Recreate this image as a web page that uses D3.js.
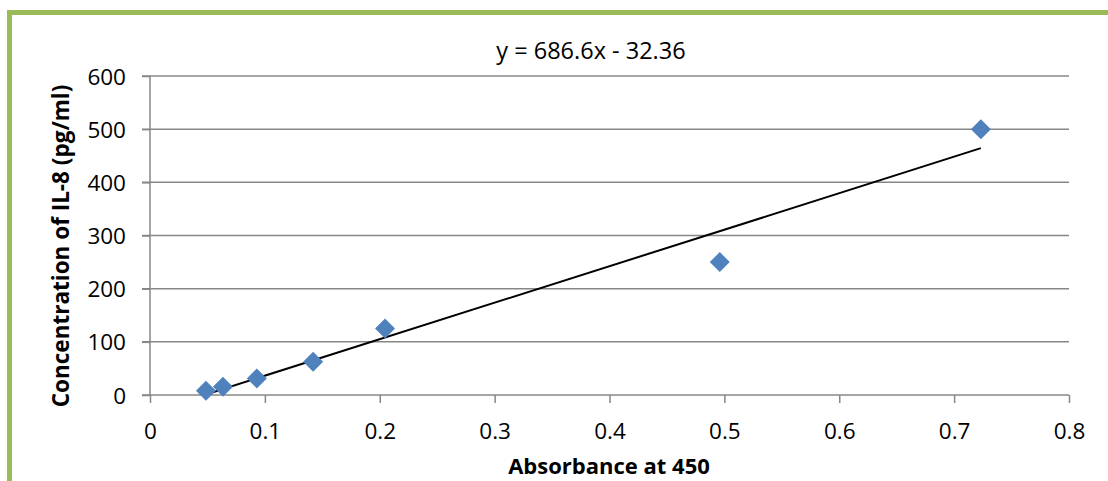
<!DOCTYPE html>
<html>
<head>
<meta charset="utf-8">
<script src="https://cdn.jsdelivr.net/npm/d3@7"></script>
<style>
  body { margin: 0; background: #fff; }
  svg text { font-family: "Open Sans", "Liberation Sans", sans-serif; fill: #000; }
</style>
</head>
<body>
<script>
const absorbance = [0.0487, 0.0635, 0.093, 0.142, 0.2046, 0.496, 0.7233];
const concentration = [7.8, 15.6, 31.25, 62.5, 125, 250, 500];
const xTicks = [0, 0.1, 0.2, 0.3, 0.4, 0.5, 0.6, 0.7, 0.8];
const yTicks = [0, 100, 200, 300, 400, 500, 600];
const slope = 686.6;
const intercept = -32.36;

const w = 1108;
const h = 481;
const plotLeft = 150, plotRight = 1069, plotTop = 76, plotBottom = 395;

const svg = d3.select("body")
              .append("svg")
              .attr("width", w)
              .attr("height", h)

// green frame
svg.append("path")
   .attr("d", "M9.5," + h + " V12.5 H" + w)
   .attr("fill", "none")
   .attr("stroke", "#9bbb59")
   .attr("stroke-width", 5)

const xScale = d3.scaleLinear().domain([0, 0.8]).range([plotLeft, plotRight]);
const yScale = d3.scaleLinear().domain([0, 600]).range([plotBottom, plotTop]);

// gridlines
svg.append("g")
   .selectAll("line")
   .data(yTicks)
   .enter()
   .append("line")
   .attr("x1", plotLeft - 8)
   .attr("x2", plotRight)
   .attr("y1", d => yScale(d))
   .attr("y2", d => yScale(d))
   .attr("stroke", "#878787")
   .attr("stroke-width", 1.5)

const yAxis = d3.axisLeft(yScale).tickValues(yTicks).tickSize(8).tickPadding(16);
svg.append("g")
   .attr("transform", "translate(" + plotLeft + ",0)")
   .call(yAxis)
   .call(g => g.selectAll("line, path").attr("stroke", "#878787").attr("stroke-width", 1.5))
   .call(g => g.select(".domain").attr("d", "M0," + plotTop + "V" + plotBottom))
   .call(g => g.selectAll("text").attr("font-size", 22.5).attr("font-family", "Open Sans").attr("dy", "0.36em"))

const xAxis = d3.axisBottom(xScale).tickValues(xTicks).tickSize(8).tickPadding(20)
                .tickFormat(d => d === 0 ? "0" : d3.format(".1f")(d));
svg.append("g")
   .attr("transform", "translate(0," + plotBottom + ")")
   .call(xAxis)
   .call(g => g.select(".domain").remove())
   .call(g => g.selectAll("line").attr("stroke", "#878787").attr("stroke-width", 1.5))
   .call(g => g.selectAll("text").attr("font-size", 22.5).attr("font-family", "Open Sans"))

// trendline
const x0 = d3.min(absorbance), x1 = d3.max(absorbance);
svg.append("line")
   .attr("x1", xScale(x0))
   .attr("y1", yScale(slope * x0 + intercept))
   .attr("x2", xScale(x1))
   .attr("y2", yScale(slope * x1 + intercept))
   .attr("stroke", "#000")
   .attr("stroke-width", 2)

// points
svg.selectAll(".pt")
   .data(absorbance)
   .enter()
   .append("path")
   .attr("class", "pt")
   .attr("d", "M0,-10L10,0L0,10L-10,0Z")
   .attr("transform", (d, i) => "translate(" + xScale(d) + "," + yScale(concentration[i]) + ")")
   .attr("fill", "#4f81bd")

svg.append("text")
   .text("y = 686.6x - 32.36")
   .attr("x", 591)
   .attr("y", 59)
   .attr("text-anchor", "middle")
   .attr("font-size", 23.5)

svg.append("text")
   .text("Absorbance at 450")
   .attr("x", 609)
   .attr("y", 474)
   .attr("text-anchor", "middle")
   .attr("font-size", 22)
   .attr("font-weight", "bold")

svg.append("text")
   .text("Concentration of IL-8 (pg/ml)")
   .attr("transform", "translate(69,246) rotate(-90)")
   .attr("text-anchor", "middle")
   .attr("font-size", 22.5)
   .attr("font-weight", "bold")
</script>
</body>
</html>
